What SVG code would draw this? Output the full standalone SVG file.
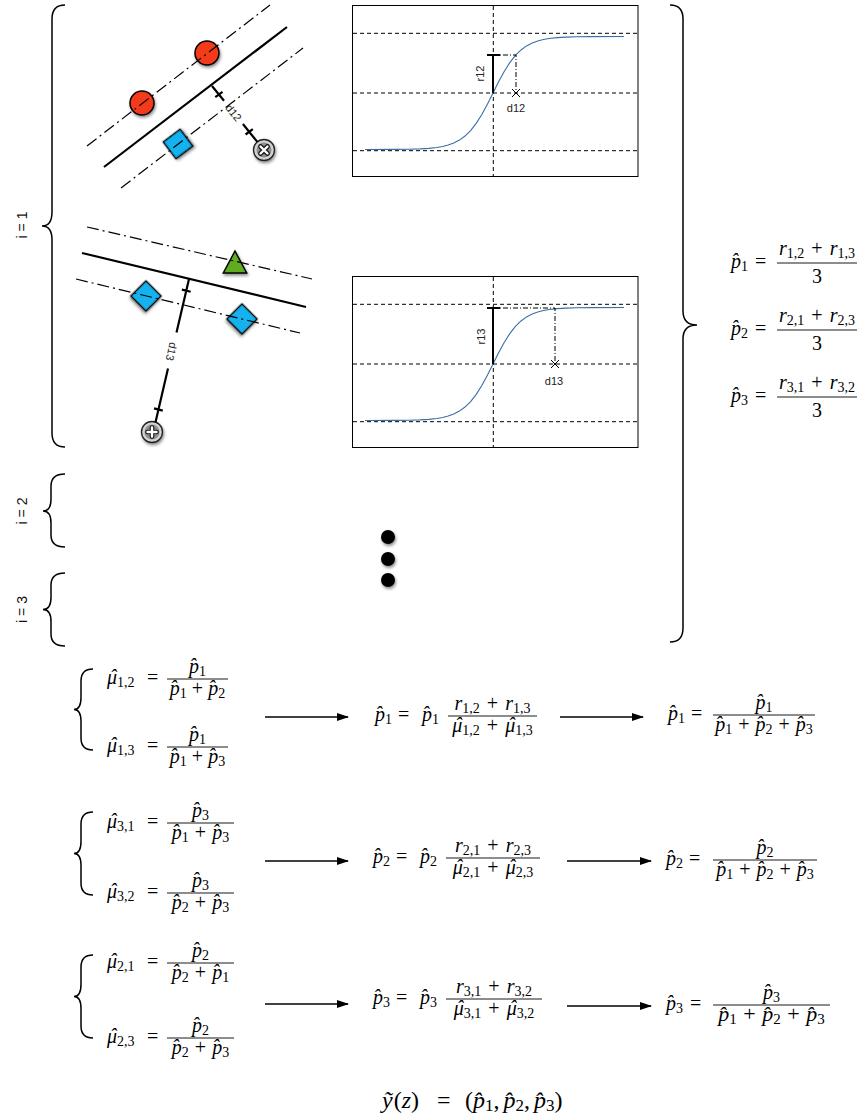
<svg xmlns="http://www.w3.org/2000/svg" xmlns:xlink="http://www.w3.org/1999/xlink" width="859" height="1118" viewBox="0 0 859 1118">
<defs>
<style>
.m{font-family:"Liberation Serif","Times New Roman",serif;font-size:20px;fill:#000}
.i{font-style:italic}
.sb{font-size:14px}
.lbl{font-family:"Liberation Sans",Arial,sans-serif;font-size:11px;fill:#222}
.ilbl{font-family:"Liberation Sans",Arial,sans-serif;font-size:14px;fill:#111}
.bar{stroke:#000;stroke-width:0.9}
.brace{fill:none;stroke:#000;stroke-width:1.5}
.dd{fill:none;stroke:#000;stroke-width:1.2;stroke-dasharray:12 4 2 4}
.dd2{fill:none;stroke:#000;stroke-width:1;stroke-dasharray:5 2 1 2}
.solid{fill:none;stroke:#000;stroke-width:2.2}
.grid{fill:none;stroke:#000;stroke-width:1;stroke-dasharray:4 3}
.arrow{stroke:#000;stroke-width:1.6;marker-end:url(#ah)}
.red{fill:#f33a1f;stroke:#000;stroke-width:1.5}
.blue{fill:#16b2f0;stroke:#000;stroke-width:1.5}
.green{fill:#5fab24;stroke:#000;stroke-width:1.5}
</style>
<filter id="sh" x="-40%" y="-40%" width="190%" height="190%">
<feDropShadow dx="1" dy="2" stdDeviation="1.5" flood-color="#000" flood-opacity="0.45"/>
</filter>
<marker id="ah" markerWidth="12" markerHeight="8" refX="11" refY="4" orient="auto" markerUnits="userSpaceOnUse">
<path d="M0,0 L12,4 L0,8 z" fill="#000"/>
</marker>
<g id="plotframe">
<rect x="352.5" y="5.5" width="285.5" height="171" fill="#fff" stroke="#000" stroke-width="1"/>
<path class="grid" d="M353,33.3 H638 M353,93 H638 M353,150.7 H638 M493.3,6 V176"/>
<path fill="none" stroke="#3a6ea5" stroke-width="1.1" d="M365,149.49 L395,149.4 L409,149.22 L420.2,148.88 L428.6,148.38 L437,147.47 L442.6,146.49 L448.2,145.08 L453.8,143.03 L459.4,140.1 L465,136.03 L470.6,130.52 L476.2,123.34 L481.8,114.46 L487.4,104.15 L493,93 L498.6,81.85 L504.2,71.54 L509.8,62.66 L515.4,55.48 L521,49.97 L526.6,45.9 L532.2,42.97 L537.8,40.92 L543.4,39.51 L549,38.53 L557.4,37.62 L565.8,37.12 L577,36.78 L591,36.6 L624,36.51"/>
</g>
</defs>
<rect width="859" height="1118" fill="#fff"/>

<!-- left braces and labels -->
<g id="brace-i1">
<path class="brace" d="M65,5 Q52,5 52,19 L52,212 Q52,226 42,226 Q52,226 52,240 L52,433 Q52,447 65,447"/>
<text class="ilbl" transform="translate(27,225) rotate(-90)" text-anchor="middle">i = 1</text>
</g>
<g id="brace-i2">
<path class="brace" d="M65,474 Q51,474 51,486 L51,499 Q51,511 43,511 Q51,511 51,523 L51,535 Q51,547 65,547"/>
<text class="ilbl" transform="translate(27,511) rotate(-90)" text-anchor="middle">i = 2</text>
</g>
<g id="brace-i3">
<path class="brace" d="M65,573 Q51,573 51,585 L51,597.5 Q51,609.5 43,609.5 Q51,609.5 51,621.5 L51,634 Q51,646 65,646"/>
<text class="ilbl" transform="translate(27,609.5) rotate(-90)" text-anchor="middle">i = 3</text>
</g>
<g id="brace-right">
<path class="brace" d="M670,5 Q683,5 683,19 L683,311 Q683,325 697,325 Q683,325 683,339 L683,628 Q683,642 670,642"/>
</g>

<!-- diagram 1 -->
<g id="svm-1">
<circle class="red" cx="207" cy="53" r="12" filter="url(#sh)"/>
<circle class="red" cx="142" cy="103" r="12" filter="url(#sh)"/>
<rect class="blue" x="167.5" y="133.5" width="21" height="21" transform="rotate(-37 178 144)" filter="url(#sh)"/>
<g transform="translate(264,150)" filter="url(#sh)">
<circle r="10.5" fill="#d2d2d2" stroke="#222" stroke-width="1.3"/>
<circle r="7.5" fill="#8e8e8e"/>
<path d="M-3.5,-3.5 L3.5,3.5 M3.5,-3.5 L-3.5,3.5" stroke="#111" stroke-width="4.6" stroke-linecap="round"/>
<path d="M-3.5,-3.5 L3.5,3.5 M3.5,-3.5 L-3.5,3.5" stroke="#fff" stroke-width="2.4" stroke-linecap="round"/>
</g>
<line class="solid" x1="104" y1="167" x2="287" y2="27"/>
<line class="dd" x1="87" y1="146" x2="270" y2="5"/>
<line class="dd" x1="121" y1="188" x2="303" y2="48"/>
<path class="solid" d="M212,86 L224,100.7 M242.9,124 L257.4,141.9 M215.3,97.2 L222.5,91.8 M245.6,134.5 L252.8,129.1"/>
<text class="lbl" transform="translate(233.6,112.6) rotate(51)" text-anchor="middle" y="4">d12</text>
</g>

<!-- diagram 2 -->
<g id="svm-2">
<polygon class="green" points="235,251 246.7,273 223.3,273" filter="url(#sh)"/>
<rect class="blue" x="-10.6" y="-10.6" width="21.2" height="21.2" transform="translate(146,296) rotate(45)" filter="url(#sh)"/>
<rect class="blue" x="-10.6" y="-10.6" width="21.2" height="21.2" transform="translate(242,319) rotate(45)" filter="url(#sh)"/>
<g transform="translate(152,432)" filter="url(#sh)">
<circle r="10.5" fill="#d2d2d2" stroke="#222" stroke-width="1.3"/>
<circle r="7.5" fill="#8e8e8e"/>
<path d="M0,-4.5 L0,4.5 M-4.5,0 L4.5,0" stroke="#111" stroke-width="4.6" stroke-linecap="round"/>
<path d="M0,-4.5 L0,4.5 M-4.5,0 L4.5,0" stroke="#fff" stroke-width="2.4" stroke-linecap="round"/>
</g>
<line class="solid" x1="82" y1="253" x2="306" y2="307"/>
<line class="dd" x1="87" y1="227" x2="312" y2="279"/>
<line class="dd" x1="76" y1="279" x2="300" y2="333"/>
<path class="solid" d="M189,279 L176.5,332.6 M168,368.6 L155.5,422.2 M181.9,289.6 L190.7,291.8 M154,408.4 L162.8,410.6"/>
<text class="lbl" transform="translate(171.7,351.7) rotate(103)" text-anchor="middle" y="4">d13</text>
</g>

<!-- plot 1 -->
<g id="plot-1">
<use xlink:href="#plotframe"/>
<path d="M493,93 V55 M487,55 H500" stroke="#000" stroke-width="2" fill="none"/>
<path class="dd2" d="M493,55 H516 V93"/>
<path d="M512,89 L520,97 M520,89 L512,97" stroke="#000" stroke-width="1"/>
<text class="lbl" transform="translate(484,73.5) rotate(-90)" text-anchor="middle">r12</text>
<text class="lbl" x="516" y="112" text-anchor="middle">d12</text>
</g>

<!-- plot 2 -->
<g id="plot-2">
<use xlink:href="#plotframe" transform="translate(0,271)"/>
<path d="M493,364 V308 M487,308 H500" stroke="#000" stroke-width="2" fill="none"/>
<path class="dd2" d="M493,308 H555 V364"/>
<path d="M551,360 L559,368 M559,360 L551,368" stroke="#000" stroke-width="1"/>
<text class="lbl" transform="translate(484.5,336.5) rotate(-90)" text-anchor="middle">r13</text>
<text class="lbl" x="554" y="385" text-anchor="middle">d13</text>
</g>

<!-- ellipsis dots -->
<g id="dots" filter="url(#sh)">
<circle cx="388" cy="537" r="7" fill="#000"/>
<circle cx="388" cy="559" r="7" fill="#000"/>
<circle cx="388" cy="580" r="7" fill="#000"/>
</g>

<!-- right formulas -->
<g id="f-top-1">
<text class="m" x="731" y="268"><tspan class="i">p̂</tspan><tspan class="sb" dy="3">1</tspan><tspan x="755" dy="-3">=</tspan></text>
<text class="m" x="817" y="255" text-anchor="middle"><tspan class="i">r</tspan><tspan class="sb" dy="3">1,2</tspan><tspan dy="-3" dx="2"> + </tspan><tspan class="i" dx="2">r</tspan><tspan class="sb" dy="3">1,3</tspan></text>
<line class="bar" x1="777" y1="263" x2="857" y2="263"/>
<text class="m" x="817" y="283" text-anchor="middle">3</text>
</g>
<g id="f-top-2">
<text class="m" x="731" y="335"><tspan class="i">p̂</tspan><tspan class="sb" dy="3">2</tspan><tspan x="755" dy="-3">=</tspan></text>
<text class="m" x="817" y="322" text-anchor="middle"><tspan class="i">r</tspan><tspan class="sb" dy="3">2,1</tspan><tspan dy="-3" dx="2"> + </tspan><tspan class="i" dx="2">r</tspan><tspan class="sb" dy="3">2,3</tspan></text>
<line class="bar" x1="777" y1="330" x2="857" y2="330"/>
<text class="m" x="817" y="350" text-anchor="middle">3</text>
</g>
<g id="f-top-3">
<text class="m" x="731" y="402"><tspan class="i">p̂</tspan><tspan class="sb" dy="3">3</tspan><tspan x="755" dy="-3">=</tspan></text>
<text class="m" x="817" y="389" text-anchor="middle"><tspan class="i">r</tspan><tspan class="sb" dy="3">3,1</tspan><tspan dy="-3" dx="2"> + </tspan><tspan class="i" dx="2">r</tspan><tspan class="sb" dy="3">3,2</tspan></text>
<line class="bar" x1="777" y1="397" x2="857" y2="397"/>
<text class="m" x="817" y="417" text-anchor="middle">3</text>
</g>

<!-- row 1 -->
<g id="row1-mu">
<path class="brace" d="M93,669 Q81,669 81,681 L81,697.5 Q81,709.5 74,709.5 Q81,709.5 81,721.5 L81,738 Q81,750 93,750"/>
<text class="m" x="107" y="684"><tspan class="i" dx="0 -7.3">μˆ</tspan><tspan class="sb" dx="0.7" dy="3">1,2</tspan><tspan x="147" dy="-3">=</tspan></text>
<text class="m" x="197.5" y="673" text-anchor="middle"><tspan class="i">p̂</tspan><tspan class="sb" dy="3">1</tspan></text>
<line class="bar" x1="167" y1="679" x2="228" y2="679"/>
<text class="m" x="197.5" y="695" text-anchor="middle"><tspan class="i">p̂</tspan><tspan class="sb" dy="3">1</tspan><tspan dy="-3"> + </tspan><tspan class="i">p̂</tspan><tspan class="sb" dy="3">2</tspan></text>
<text class="m" x="107" y="752"><tspan class="i" dx="0 -7.3">μˆ</tspan><tspan class="sb" dx="0.7" dy="3">1,3</tspan><tspan x="147" dy="-3">=</tspan></text>
<text class="m" x="197.5" y="741" text-anchor="middle"><tspan class="i">p̂</tspan><tspan class="sb" dy="3">1</tspan></text>
<line class="bar" x1="167" y1="747" x2="228" y2="747"/>
<text class="m" x="197.5" y="763" text-anchor="middle"><tspan class="i">p̂</tspan><tspan class="sb" dy="3">1</tspan><tspan dy="-3"> + </tspan><tspan class="i">p̂</tspan><tspan class="sb" dy="3">3</tspan></text>
</g>
<g id="row1-update">
<text class="m" x="375" y="721"><tspan class="i">p̂</tspan><tspan class="sb" dy="3">1</tspan><tspan x="398" dy="-3">=</tspan><tspan class="i" x="422">p̂</tspan><tspan class="sb" dy="3">1</tspan></text>
<text class="m" x="492.5" y="710" text-anchor="middle"><tspan class="i">r</tspan><tspan class="sb" dy="3">1,2</tspan><tspan dy="-3" dx="2"> + </tspan><tspan class="i" dx="2">r</tspan><tspan class="sb" dy="3">1,3</tspan></text>
<line class="bar" x1="448" y1="716" x2="537" y2="716"/>
<text class="m" x="492.5" y="732" text-anchor="middle"><tspan class="i" dx="0 -7.3">μˆ</tspan><tspan class="sb" dx="0.7" dy="3">1,2</tspan><tspan dy="-3" dx="2"> + </tspan><tspan class="i" dx="2 -7.3">μˆ</tspan><tspan class="sb" dx="0.7" dy="3">1,3</tspan></text>
</g>
<g id="row1-norm">
<text class="m" x="668" y="720"><tspan class="i">p̂</tspan><tspan class="sb" dy="3">1</tspan><tspan x="691" dy="-3">=</tspan></text>
<text class="m" x="764" y="709" text-anchor="middle"><tspan class="i">p̂</tspan><tspan class="sb" dy="3">1</tspan></text>
<line class="bar" x1="713" y1="715" x2="815" y2="715"/>
<text class="m" x="764" y="731" text-anchor="middle"><tspan class="i">p̂</tspan><tspan class="sb" dy="3">1</tspan><tspan dy="-3" dx="1"> + </tspan><tspan class="i" dx="1">p̂</tspan><tspan class="sb" dy="3">2</tspan><tspan dy="-3" dx="1"> + </tspan><tspan class="i" dx="1">p̂</tspan><tspan class="sb" dy="3">3</tspan></text>
</g>

<!-- row 2 -->
<g id="row2-mu">
<path class="brace" d="M93,812 Q81,812 81,824 L81,841.5 Q81,853.5 74,853.5 Q81,853.5 81,865.5 L81,883 Q81,895 93,895"/>
<text class="m" x="107" y="828"><tspan class="i" dx="0 -7.3">μˆ</tspan><tspan class="sb" dx="0.7" dy="3">3,1</tspan><tspan x="147" dy="-3">=</tspan></text>
<text class="m" x="200.5" y="817" text-anchor="middle"><tspan class="i">p̂</tspan><tspan class="sb" dy="3">3</tspan></text>
<line class="bar" x1="167" y1="823" x2="234" y2="823"/>
<text class="m" x="200.5" y="839" text-anchor="middle"><tspan class="i">p̂</tspan><tspan class="sb" dy="3">1</tspan><tspan dy="-3" dx="1"> + </tspan><tspan class="i" dx="1">p̂</tspan><tspan class="sb" dy="3">3</tspan></text>
<text class="m" x="107" y="898"><tspan class="i" dx="0 -7.3">μˆ</tspan><tspan class="sb" dx="0.7" dy="3">3,2</tspan><tspan x="147" dy="-3">=</tspan></text>
<text class="m" x="200.5" y="887" text-anchor="middle"><tspan class="i">p̂</tspan><tspan class="sb" dy="3">3</tspan></text>
<line class="bar" x1="167" y1="893" x2="234" y2="893"/>
<text class="m" x="200.5" y="909" text-anchor="middle"><tspan class="i">p̂</tspan><tspan class="sb" dy="3">2</tspan><tspan dy="-3" dx="1"> + </tspan><tspan class="i" dx="1">p̂</tspan><tspan class="sb" dy="3">3</tspan></text>
</g>
<g id="row2-update">
<text class="m" x="373" y="863"><tspan class="i">p̂</tspan><tspan class="sb" dy="3">2</tspan><tspan x="396" dy="-3">=</tspan><tspan class="i" x="420">p̂</tspan><tspan class="sb" dy="3">2</tspan></text>
<text class="m" x="493" y="852" text-anchor="middle"><tspan class="i">r</tspan><tspan class="sb" dy="3">2,1</tspan><tspan dy="-3" dx="2"> + </tspan><tspan class="i" dx="2">r</tspan><tspan class="sb" dy="3">2,3</tspan></text>
<line class="bar" x1="446" y1="858" x2="540" y2="858"/>
<text class="m" x="493" y="874" text-anchor="middle"><tspan class="i" dx="0 -7.3">μˆ</tspan><tspan class="sb" dx="0.7" dy="3">2,1</tspan><tspan dy="-3" dx="2"> + </tspan><tspan class="i" dx="2 -7.3">μˆ</tspan><tspan class="sb" dx="0.7" dy="3">2,3</tspan></text>
</g>
<g id="row2-norm">
<text class="m" x="666" y="865"><tspan class="i">p̂</tspan><tspan class="sb" dy="3">2</tspan><tspan x="689" dy="-3">=</tspan></text>
<text class="m" x="765" y="854" text-anchor="middle"><tspan class="i">p̂</tspan><tspan class="sb" dy="3">2</tspan></text>
<line class="bar" x1="713" y1="860" x2="817" y2="860"/>
<text class="m" x="765" y="876" text-anchor="middle"><tspan class="i">p̂</tspan><tspan class="sb" dy="3">1</tspan><tspan dy="-3" dx="1"> + </tspan><tspan class="i" dx="1">p̂</tspan><tspan class="sb" dy="3">2</tspan><tspan dy="-3" dx="1"> + </tspan><tspan class="i" dx="1">p̂</tspan><tspan class="sb" dy="3">3</tspan></text>
</g>

<!-- row 3 -->
<g id="row3-mu">
<path class="brace" d="M93,955 Q81,955 81,967 L81,984.5 Q81,996.5 74,996.5 Q81,996.5 81,1008.5 L81,1026 Q81,1038 93,1038"/>
<text class="m" x="107" y="968"><tspan class="i" dx="0 -7.3">μˆ</tspan><tspan class="sb" dx="0.7" dy="3">2,1</tspan><tspan x="147" dy="-3">=</tspan></text>
<text class="m" x="200.5" y="957" text-anchor="middle"><tspan class="i">p̂</tspan><tspan class="sb" dy="3">2</tspan></text>
<line class="bar" x1="167" y1="963" x2="234" y2="963"/>
<text class="m" x="200.5" y="979" text-anchor="middle"><tspan class="i">p̂</tspan><tspan class="sb" dy="3">2</tspan><tspan dy="-3" dx="1"> + </tspan><tspan class="i" dx="1">p̂</tspan><tspan class="sb" dy="3">1</tspan></text>
<text class="m" x="107" y="1043"><tspan class="i" dx="0 -7.3">μˆ</tspan><tspan class="sb" dx="0.7" dy="3">2,3</tspan><tspan x="147" dy="-3">=</tspan></text>
<text class="m" x="200.5" y="1032" text-anchor="middle"><tspan class="i">p̂</tspan><tspan class="sb" dy="3">2</tspan></text>
<line class="bar" x1="167" y1="1038" x2="234" y2="1038"/>
<text class="m" x="200.5" y="1054" text-anchor="middle"><tspan class="i">p̂</tspan><tspan class="sb" dy="3">2</tspan><tspan dy="-3" dx="1"> + </tspan><tspan class="i" dx="1">p̂</tspan><tspan class="sb" dy="3">3</tspan></text>
</g>
<g id="row3-update">
<text class="m" x="373" y="1004"><tspan class="i">p̂</tspan><tspan class="sb" dy="3">3</tspan><tspan x="396" dy="-3">=</tspan><tspan class="i" x="420">p̂</tspan><tspan class="sb" dy="3">3</tspan></text>
<text class="m" x="494" y="993" text-anchor="middle"><tspan class="i">r</tspan><tspan class="sb" dy="3">3,1</tspan><tspan dy="-3" dx="2"> + </tspan><tspan class="i" dx="2">r</tspan><tspan class="sb" dy="3">3,2</tspan></text>
<line class="bar" x1="446" y1="999" x2="542" y2="999"/>
<text class="m" x="494" y="1015" text-anchor="middle"><tspan class="i" dx="0 -7.3">μˆ</tspan><tspan class="sb" dx="0.7" dy="3">3,1</tspan><tspan dy="-3" dx="2"> + </tspan><tspan class="i" dx="2 -7.3">μˆ</tspan><tspan class="sb" dx="0.7" dy="3">3,2</tspan></text>
</g>
<g id="row3-norm">
<text class="m" x="666" y="1010"><tspan class="i">p̂</tspan><tspan class="sb" dy="3">3</tspan><tspan x="690" dy="-3">=</tspan></text>
<text class="m" x="771.5" y="999" text-anchor="middle"><tspan class="i">p̂</tspan><tspan class="sb" dy="3">3</tspan></text>
<line class="bar" x1="713" y1="1005" x2="830" y2="1005"/>
<text class="m" x="771.5" y="1021" text-anchor="middle" style="font-size:22px"><tspan class="i">p̂</tspan><tspan style="font-size:15px" dy="3">1</tspan><tspan dy="-3" dx="1"> + </tspan><tspan class="i" dx="1">p̂</tspan><tspan style="font-size:15px" dy="3">2</tspan><tspan dy="-3" dx="1"> + </tspan><tspan class="i" dx="1">p̂</tspan><tspan style="font-size:15px" dy="3">3</tspan></text>
</g>

<!-- final -->
<g id="final">
<text class="m" x="382" y="1108" style="font-size:24px"><tspan class="i">ỹ</tspan><tspan dx="1">(</tspan><tspan class="i">z</tspan><tspan>)</tspan><tspan x="437">=</tspan><tspan x="465">(</tspan><tspan class="i">p̂</tspan><tspan style="font-size:17px" dy="3">1</tspan><tspan dy="-3">,</tspan><tspan class="i" dx="4">p̂</tspan><tspan style="font-size:17px" dy="3">2</tspan><tspan dy="-3">,</tspan><tspan class="i" dx="4">p̂</tspan><tspan style="font-size:17px" dy="3">3</tspan><tspan dy="-3">)</tspan></text>
</g>

<!-- connectors -->
<g id="connectors">
<line class="arrow" x1="265" y1="717" x2="348" y2="717"/>
<line class="arrow" x1="560" y1="717" x2="643" y2="717"/>
<line class="arrow" x1="265" y1="861" x2="348" y2="861"/>
<line class="arrow" x1="567" y1="861" x2="651" y2="861"/>
<line class="arrow" x1="265" y1="1004" x2="348" y2="1004"/>
<line class="arrow" x1="567" y1="1006" x2="651" y2="1006"/>
</g>
</svg>
